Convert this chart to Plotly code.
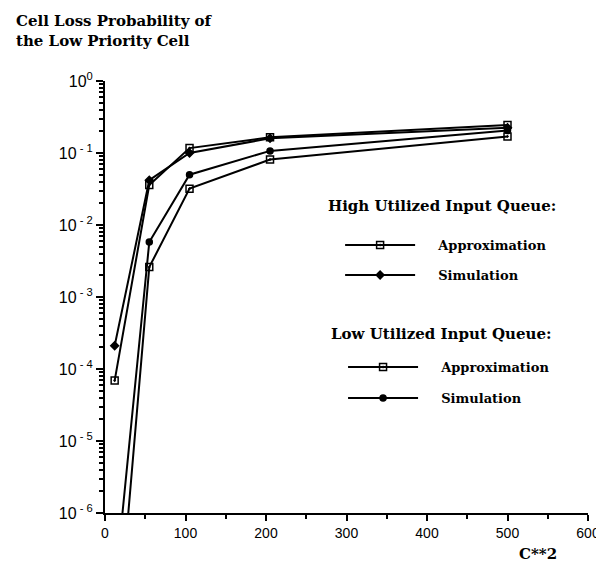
import plotly.graph_objects as go

# ---- data ----
x_vals = [12, 55, 105, 205, 500]
high_approx = [6.9e-5, 0.036, 0.117, 0.165, 0.245]
high_sim = [2.1e-4, 0.042, 0.100, 0.160, 0.225]
low_approx = [6e-9, 2.6e-3, 0.032, 0.081, 0.170]
low_sim = [8e-8, 5.8e-3, 0.050, 0.107, 0.205]

y_tick_exps = [0, -1, -2, -3, -4, -5, -6]
x_ticks = [0, 100, 200, 300, 400, 500, 600]

SERIF = "DejaVu Serif, Liberation Serif, serif"
SANS = "Liberation Sans, Arial, sans-serif"

W, H = 604, 567
L, R, T, B = 97, 16, 73, 62
pw, ph = W - L - R, H - T - B


def px_x(px):
    return (px - L) / pw


def px_y(py):
    return (H - B - py) / ph


fig = go.Figure()

PAD = "\u00a0" * 4
series = [
    ("Approximation", high_approx, "square-open-dot", 7, "legend"),
    ("Simulation", high_sim, "diamond", 6, "legend2"),
    ("Approximation", low_approx, "square-open-dot", 7, "legend3"),
    ("Simulation", low_sim, "circle", 6, "legend4"),
]
for name, ys, sym, size, lg in series:
    fig.add_trace(go.Scatter(
        x=x_vals, y=ys, mode="lines+markers", name=PAD + name,
        line=dict(color="black", width=2),
        marker=dict(symbol=sym, size=size, color="black",
                    line=dict(color="black", width=1.5)),
        legend=lg, cliponaxis=True,
    ))

minor_vals = [m * 10 ** e for e in range(-6, 0) for m in range(2, 10)]

fig.update_yaxes(
    type="log", range=[-6, 0],
    tickvals=[10 ** e for e in y_tick_exps],
    ticktext=["10<sup>" + (" - " + str(-e) if e < 0 else "0") + "</sup>" for e in y_tick_exps],
    ticks="outside", ticklen=7, tickwidth=2, tickcolor="black",
    showline=True, linecolor="black", linewidth=2,
    showgrid=False, zeroline=False,
    tickfont=dict(family=SANS, size=16, color="black"),
    minor=dict(tickvals=minor_vals, ticks="outside", ticklen=4,
               tickwidth=1.5, tickcolor="black", showgrid=False),
)
fig.update_xaxes(
    range=[0, 600], tickvals=x_ticks,
    ticks="outside", ticklen=6, tickwidth=2, tickcolor="black",
    showline=True, linecolor="black", linewidth=2,
    showgrid=False, zeroline=False,
    tickfont=dict(family=SANS, size=14, color="black"),
    minor=dict(dtick=50, ticks="outside", ticklen=4, tickwidth=1.5,
               tickcolor="black", showgrid=False),
)

leg_common = dict(bgcolor="rgba(0,0,0,0)", borderwidth=0, xanchor="left",
                  yanchor="middle", itemwidth=70,
                  font=dict(family=SERIF, size=13, color="black", weight="bold"))
fig.update_layout(
    width=W, height=H,
    margin=dict(l=L, r=R, t=T, b=B),
    paper_bgcolor="white", plot_bgcolor="white",
    showlegend=True,
    legend=dict(x=px_x(336), y=px_y(237), **leg_common),
    legend2=dict(x=px_x(336), y=px_y(267), **leg_common),
    legend3=dict(x=px_x(339), y=px_y(359), **leg_common),
    legend4=dict(x=px_x(339), y=px_y(390), **leg_common),
)

ann_font = dict(family=SERIF, size=15, color="black", weight="bold")
fig.add_annotation(text="Cell Loss Probability of<br>the Low Priority Cell",
                   xref="paper", yref="paper", x=px_x(4), y=px_y(2),
                   xanchor="left", yanchor="top", align="left",
                   showarrow=False, font=ann_font)
fig.add_annotation(text="High Utilized Input Queue:", xref="paper", yref="paper",
                   x=px_x(322), y=px_y(198), xanchor="left", yanchor="middle",
                   showarrow=False, font=ann_font)
fig.add_annotation(text="Low Utilized Input Queue:", xref="paper", yref="paper",
                   x=px_x(325), y=px_y(326), xanchor="left", yanchor="middle",
                   showarrow=False, font=ann_font)
fig.add_annotation(text="C**2", xref="paper", yref="paper",
                   x=px_x(537), y=px_y(546), xanchor="center", yanchor="middle",
                   showarrow=False, font=ann_font)

fig.write_html("out.html")
